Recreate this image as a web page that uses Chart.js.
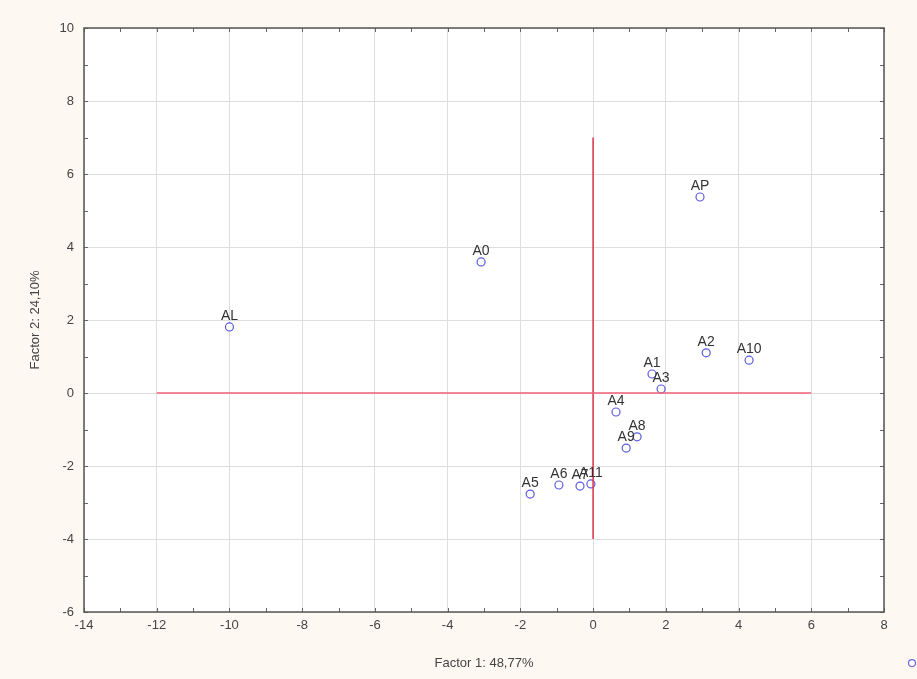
<!DOCTYPE html>
<html>
<head>
<meta charset="utf-8">
<script src="https://cdn.jsdelivr.net/npm/chart.js@4.4.1/dist/chart.umd.min.js"></script>
<style>
  html, body { margin: 0; padding: 0; background: #fdf9f2; }
  #wrap { width: 917px; height: 679px; }
</style>
</head>
<body>
<div id="wrap"><canvas id="c" width="917" height="679"></canvas></div>
<script>
// 点のラベルと座標（因子得点）
const pointNames = ["AL", "A0", "AP", "A2", "A10", "A1", "A3", "A4", "A8", "A9", "A6", "A7", "A11", "A5"];
const factor1 = [-10.0, -3.08, 2.94, 3.11, 4.29, 1.62, 1.87, 0.63, 1.21, 0.91, -0.94, -0.36, -0.06, -1.73];
const factor2 = [1.81, 3.59, 5.37, 1.10, 0.90, 0.52, 0.11, -0.52, -1.20, -1.51, -2.52, -2.55, -2.49, -2.77];

// 軸の範囲
const xRange = [-14, 8];
const yRange = [-6, 10];

// 赤い基準線
const hLineX = [-12, 6];
const vLineY = [-4, 7];

// 枠外の凡例マーク
const strayPoint = [8.77, -7.4];

const scatterData = pointNames.map((name, i) => ({ x: factor1[i], y: factor2[i] }));

// 背景と枠を描くプラグイン
const framePlugin = {
  id: "frame",
  beforeDraw(chart) {
    const ctx = chart.ctx;
    const a = chart.chartArea;
    ctx.save();
    ctx.fillStyle = "#fdf9f2";
    ctx.fillRect(0, 0, chart.width, chart.height);
    ctx.fillStyle = "#ffffff";
    ctx.fillRect(a.left, a.top, a.right - a.left, a.bottom - a.top);
    ctx.restore();
  },
  afterDraw(chart) {
    const ctx = chart.ctx;
    const a = chart.chartArea;
    const xs = chart.scales.x;
    const ys = chart.scales.y;
    ctx.save();
    ctx.strokeStyle = "#666";
    ctx.lineWidth = 1;
    // 内向きの目盛り
    for (let v = xRange[0]; v <= xRange[1]; v++) {
      const px = Math.round(xs.getPixelForValue(v)) + 0.5;
      ctx.beginPath();
      ctx.moveTo(px, a.bottom); ctx.lineTo(px, a.bottom - 4);
      ctx.moveTo(px, a.top); ctx.lineTo(px, a.top + 4);
      ctx.stroke();
    }
    for (let v = yRange[0]; v <= yRange[1]; v++) {
      const py = Math.round(ys.getPixelForValue(v)) + 0.5;
      ctx.beginPath();
      ctx.moveTo(a.left, py); ctx.lineTo(a.left + 4, py);
      ctx.moveTo(a.right, py); ctx.lineTo(a.right - 4, py);
      ctx.stroke();
    }
    ctx.strokeStyle = "#555";
    ctx.lineWidth = 1.5;
    ctx.strokeRect(a.left, a.top, a.right - a.left, a.bottom - a.top);

    // 枠外のマーク（凡例の名残）
    ctx.strokeStyle = "#6a6ae8";
    ctx.lineWidth = 1.2;
    ctx.fillStyle = "#ffffff";
    ctx.beginPath();
    ctx.arc(xs.getPixelForValue(strayPoint[0]), ys.getPixelForValue(strayPoint[1]), 3.5, 0, Math.PI * 2);
    ctx.fill();
    ctx.stroke();
    ctx.restore();
  }
};

// 点の上に名前を書くプラグイン
const labelPlugin = {
  id: "pointLabels",
  afterDatasetsDraw(chart) {
    const meta = chart.getDatasetMeta(2);
    const ctx = chart.ctx;
    ctx.save();
    ctx.font = "14px 'Liberation Sans', Arial, sans-serif";
    ctx.fillStyle = "#333";
    ctx.textAlign = "center";
    ctx.textBaseline = "bottom";
    meta.data.forEach((pt, i) => {
      ctx.fillText(pointNames[i], pt.x, pt.y - 4);
    });
    ctx.restore();
  }
};

const ctx = document.getElementById("c").getContext("2d");
new Chart(ctx, {
  type: "scatter",
  data: {
    datasets: [
      {
        data: [{ x: hLineX[0], y: 0 }, { x: hLineX[1], y: 0 }],
        showLine: true,
        borderColor: "#f0607a",
        borderWidth: 1.5,
        pointRadius: 0
      },
      {
        data: [{ x: 0, y: vLineY[0] }, { x: 0, y: vLineY[1] }],
        showLine: true,
        borderColor: "#e0304a",
        borderWidth: 1.5,
        pointRadius: 0
      },
      {
        data: scatterData,
        pointRadius: 4,
        pointBorderWidth: 1.2,
        pointBorderColor: "#5b5be0",
        pointBackgroundColor: "#ffffff"
      }
    ]
  },
  options: {
    responsive: false,
    animation: false,
    layout: { padding: { left: 0, right: 33, top: 28, bottom: 0 } },
    plugins: {
      legend: { display: false },
      tooltip: { enabled: false }
    },
    scales: {
      x: {
        type: "linear",
        min: xRange[0],
        max: xRange[1],
        ticks: {
          stepSize: 1,
          autoSkip: false,
          maxRotation: 0,
          color: "#444",
          font: { family: "'Liberation Sans', Arial, sans-serif", size: 13 },
          padding: 6,
          callback: (v) => (v % 2 === 0 ? v : "")
        },
        grid: {
          color: (c) => (c.tick && c.tick.value % 2 === 0 ? "#dedede" : "rgba(0,0,0,0)"),
          drawTicks: false
        },
        border: { display: false },
        title: {
          display: true,
          text: "Factor 1: 48,77%",
          color: "#444",
          font: { family: "'Liberation Sans', Arial, sans-serif", size: 13 },
          padding: { top: 0, bottom: 8 }
        },
        afterFit(scale) { scale.height = 67; }
      },
      y: {
        type: "linear",
        min: yRange[0],
        max: yRange[1],
        ticks: {
          stepSize: 1,
          autoSkip: false,
          color: "#444",
          font: { family: "'Liberation Sans', Arial, sans-serif", size: 13 },
          padding: 10,
          callback: (v) => (v % 2 === 0 ? v : "")
        },
        grid: {
          color: (c) => (c.tick && c.tick.value % 2 === 0 ? "#dedede" : "rgba(0,0,0,0)"),
          drawTicks: false
        },
        border: { display: false },
        title: {
          display: true,
          text: "Factor 2: 24,10%",
          color: "#444",
          font: { family: "'Liberation Sans', Arial, sans-serif", size: 13 },
          padding: { top: 28, bottom: 0 }
        },
        afterFit(scale) { scale.width = 84; }
      }
    }
  },
  plugins: [framePlugin, labelPlugin]
});
</script>
</body>
</html>
